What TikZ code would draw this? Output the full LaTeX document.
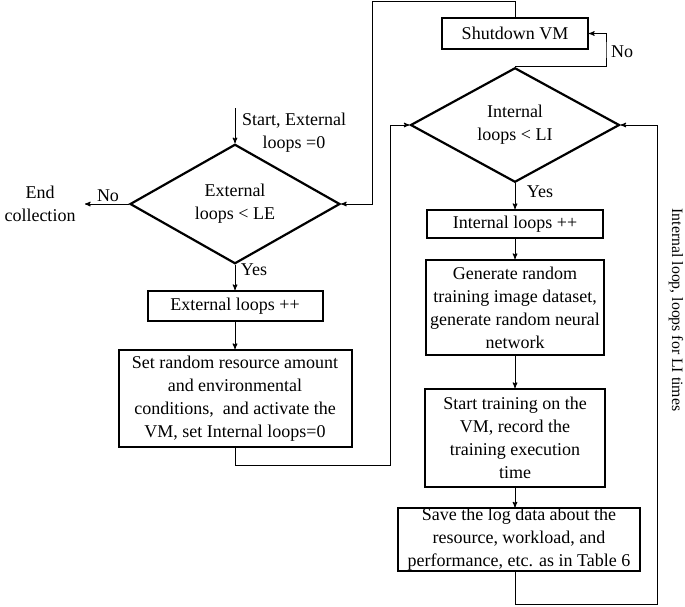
\documentclass[tikz,border=0pt]{standalone}
\usepackage{fontspec}
\setmainfont{Liberation Serif}
\usetikzlibrary{arrows, shapes, positioning, calc}

\begin{document}
\begin{tikzpicture}
            [->, >=stealth', x=1pt, y=-1pt, line width=1pt,
            font=\fontsize{18}{23}\selectfont,
            stepbox/.style={rectangle, align=center, draw=black, line width=2pt, inner sep=0pt},
            test/.style={diamond, align=center, draw=black, line width=2.2pt, inner sep=0pt},
            lbl/.style={align=center, inner sep=0pt}]

            \useasboundingbox (0,0) rectangle (685,606);

            % left column
            \node[test, minimum width=210pt, minimum height=102pt] (ext) at (235,204) {External\\loops < LE};
            \node[stepbox, minimum width=175pt, minimum height=30pt] (extinc) at (235,306) {External loops ++};
            \node[stepbox, minimum width=233pt, minimum height=97pt] (setres) at (235,398.5)
                {Set random resource amount\\and environmental\\conditions,~ and activate the\\VM, set Internal loops=0};

            % right column
            \node[stepbox, minimum width=146pt, minimum height=31pt] (shut) at (515,33.5) {Shutdown VM};
            \node[test, minimum width=209pt, minimum height=103pt] (int) at (515,125) {Internal\\loops < LI};
            \node[stepbox, minimum width=176pt, minimum height=28pt] (intinc) at (515,224) {Internal loops ++};
            \node[stepbox, minimum width=178pt, minimum height=95pt] (gen) at (515,307.5)
                {Generate random\\training image dataset,\\generate random neural\\network};
            \node[stepbox, minimum width=180pt, minimum height=98pt] (train) at (515,438)
                {Start training on the\\VM, record the\\training execution\\time};
            \node[stepbox, minimum width=242pt, minimum height=55pt] (save) at (519,539.5)
                {Save the log data about the\\resource, workload, and\\performance, etc. as in Table 6};

            % free ends and corners
            \coordinate (start) at (235,108);
            \coordinate (endc) at (85,204);
            \coordinate (topj) at (372,1.5);
            \coordinate (leftj) at (390,465);
            \coordinate (noj) at (606,50);
            \coordinate (botj) at (657,604.5);

            % labels
            \node[lbl] (startlbl) at (294,133) {Start, External\\loops =0};
            \node[lbl] (endlbl) at (40,204) {End\\collection};
            \node[lbl] (extno) at (108,196) {No};
            \node[lbl] (extyes) at (254,270) {Yes};
            \node[lbl] (intno) at (622,52) {No};
            \node[lbl] (intyes) at (540,192) {Yes};
            \node[lbl, rotate=-90, font=\fontsize{15.8}{19}\selectfont] (looplbl) at (676,310) {Internal loop, loops for LI times};

            \draw (start) -- (ext.north);
            \draw (ext.west) -- (endc);
            \draw (ext.south) -- (extinc.north);
            \draw (extinc) -- (setres);
            \draw (setres.south) |- (leftj) |- (int.west);
            \draw (shut.north) |- (topj) |- (ext.east);
            \draw (int.north) -| (noj) |- (shut.east);
            \draw (int.south) -- (intinc.north);
            \draw (intinc) -- (gen);
            \draw (gen) -- (train);
            \draw (train.south) -- (train.south |- save.north);
            \draw (save.south -| train.south) |- (botj) |- (int.east);

          \end{tikzpicture}
\end{document}
